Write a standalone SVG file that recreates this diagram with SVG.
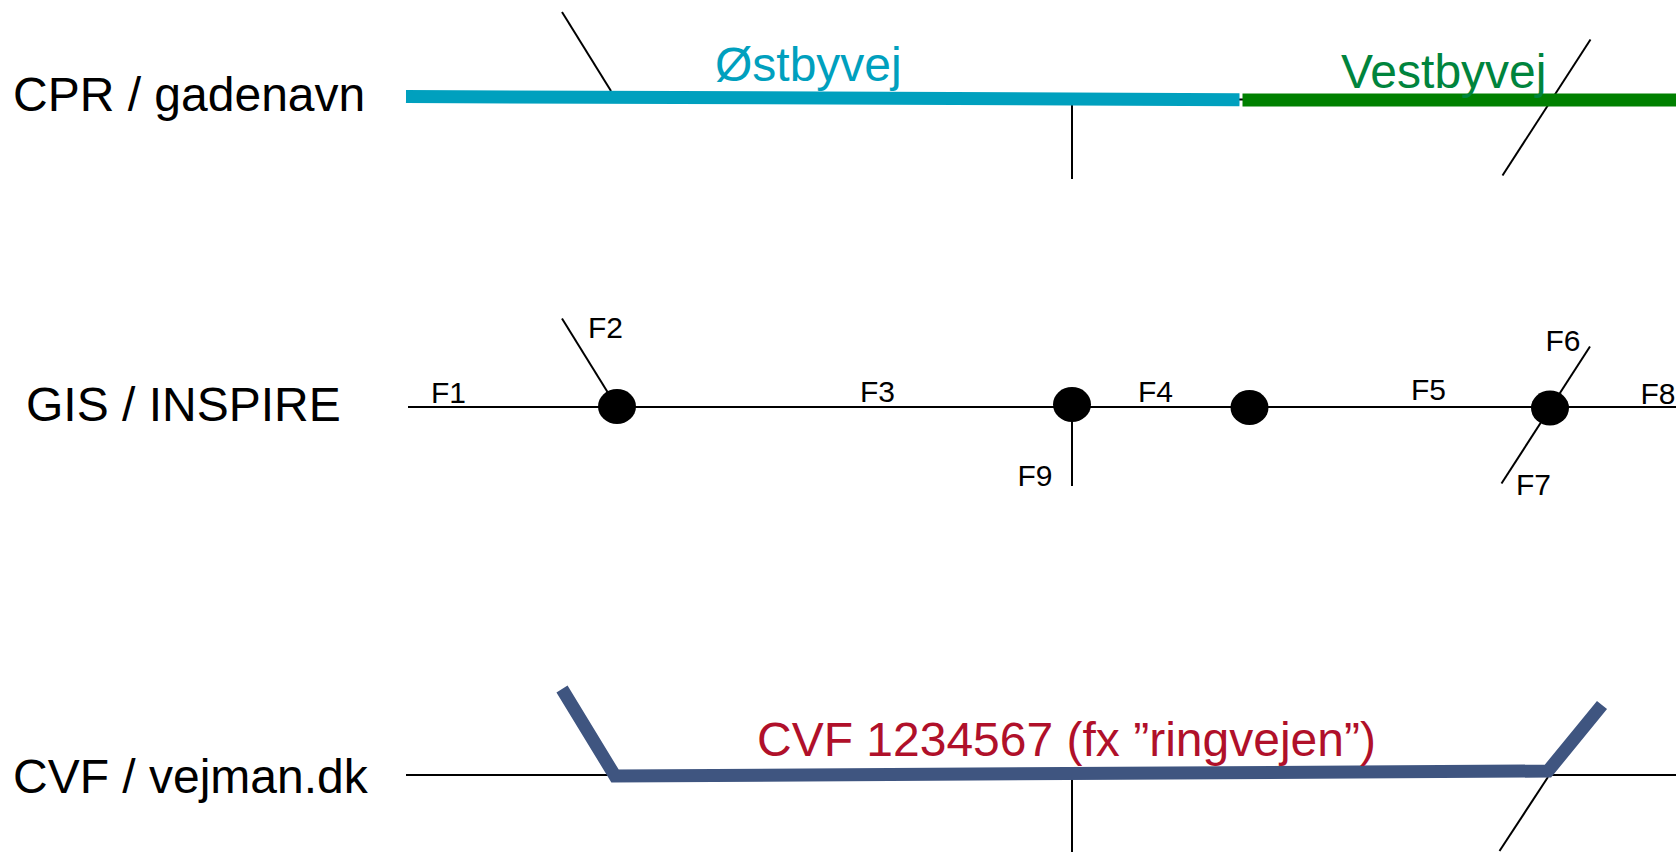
<svg xmlns="http://www.w3.org/2000/svg" width="1676" height="852" viewBox="0 0 1676 852">
<style>
.lbl{font-family:"Liberation Sans",Arial,sans-serif;font-size:48px;fill:#000}
.big{font-family:"Liberation Sans",Arial,sans-serif;font-size:48px}
.f{font-family:"Liberation Sans",Arial,sans-serif;font-size:30px;fill:#000}
.thin{stroke:#000;stroke-width:2;fill:none}
.dot{fill:#000}
</style>
<rect width="1676" height="852" fill="#fff"/>
<g id="labels">
<text class="lbl" x="13" y="111">CPR / gadenavn</text>
<text class="lbl" x="26" y="421">GIS / INSPIRE</text>
<text class="lbl" x="13" y="793">CVF / vejman.dk</text>
</g>
<g id="connectors">
<!-- row 1 -->
<line class="thin" x1="562" y1="12" x2="611" y2="91"/>
<line class="thin" x1="1072" y1="100" x2="1072" y2="179"/>
<line class="thin" x1="1590.5" y1="39.5" x2="1502.5" y2="175.5"/>
<line class="thin" x1="1236" y1="99.5" x2="1246" y2="99.5"/>
<!-- row 2 -->
<line class="thin" x1="408" y1="407" x2="1676" y2="407"/>
<line class="thin" x1="562" y1="318.5" x2="610" y2="396"/>
<line class="thin" x1="1072" y1="405" x2="1072" y2="486"/>
<line class="thin" x1="1590" y1="346.5" x2="1501.5" y2="483.5"/>
<!-- row 3 -->
<line class="thin" x1="406" y1="775" x2="1676" y2="775"/>
<line class="thin" x1="1072" y1="775" x2="1072" y2="852"/>
<line class="thin" x1="1548" y1="777" x2="1499.5" y2="851"/>
</g>
<g id="road-ostbyvej">
<path d="M406 96.5 L1239.5 99.7" stroke="#00A0BE" stroke-width="13" fill="none"/>
<text class="big" x="715" y="81" fill="#00A0BE">Østbyvej</text>
</g>
<g id="road-vestbyvej">
<line x1="1242.5" y1="100" x2="1676" y2="100" stroke="#008000" stroke-width="13"/>
<text class="big" x="1341" y="87.5" fill="#00843D">Vestbyvej</text>
</g>
<g id="nodes">
<ellipse class="dot" cx="617" cy="406.5" rx="19" ry="17.5"/>
<ellipse class="dot" cx="1072" cy="404.5" rx="19" ry="17.5"/>
<ellipse class="dot" cx="1249.5" cy="407.5" rx="19" ry="17.5"/>
<ellipse class="dot" cx="1550" cy="408" rx="19" ry="17.5"/>
</g>
<g id="segment-labels">
<text class="f" x="431" y="403">F1</text>
<text class="f" x="588" y="338">F2</text>
<text class="f" x="860" y="402">F3</text>
<text class="f" x="1138" y="402">F4</text>
<text class="f" x="1411" y="400">F5</text>
<text class="f" x="1545.5" y="351">F6</text>
<text class="f" x="1516" y="495">F7</text>
<text class="f" x="1640.5" y="404">F8</text>
<text class="f" x="1017.5" y="486">F9</text>
</g>
<g id="road-cvf">
<polyline points="562,689 615,776 1548,771 1602,705" stroke="#3F5580" stroke-width="13" fill="none" stroke-linejoin="miter"/>
<text class="big" x="757" y="756" fill="#B0102A">CVF 1234567 (fx ”ringvejen”)</text>
</g>
</svg>
